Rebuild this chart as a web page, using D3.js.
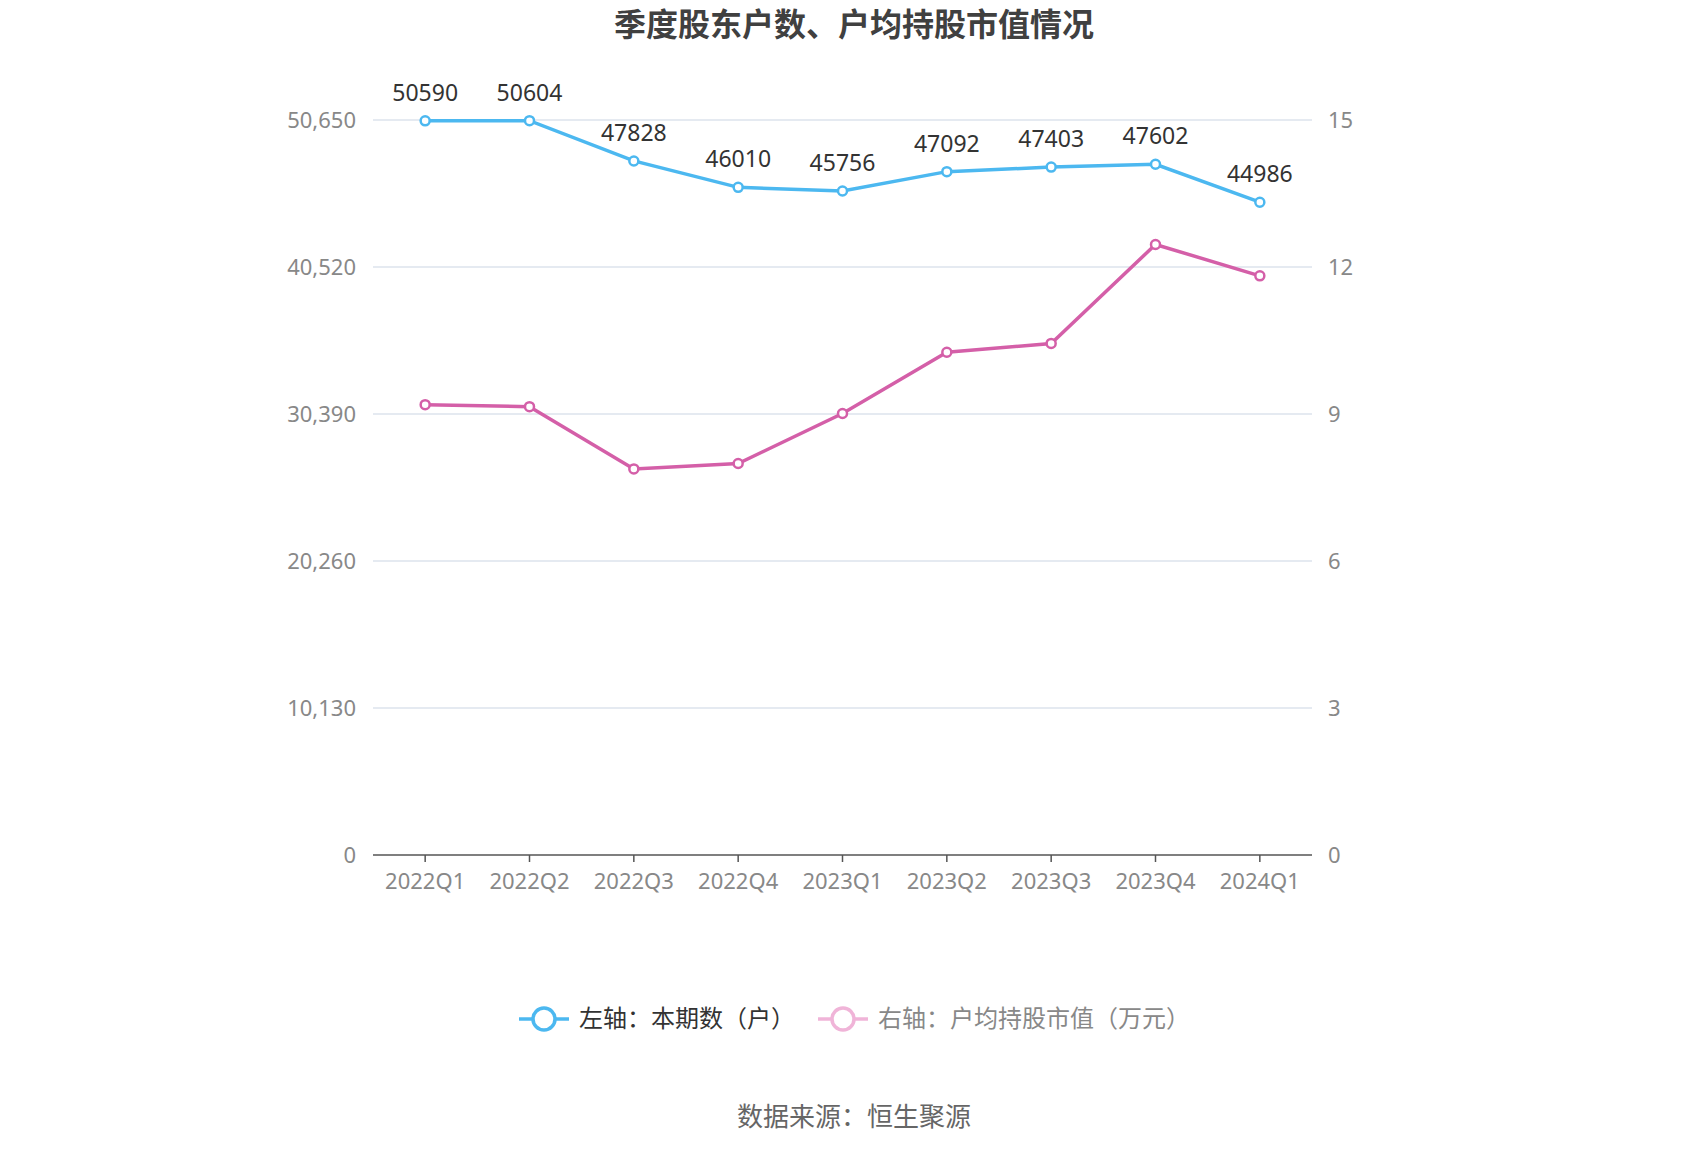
<!DOCTYPE html>
<html><head><meta charset="utf-8">
<script src="https://cdn.jsdelivr.net/npm/d3@7"></script>
<style>body{margin:0;background:#fff;font-family:"Noto Sans","Noto Sans CJK SC",sans-serif;}</style>
</head><body><div id="container"></div>
<script>
let quarters = ["2022Q1","2022Q2","2022Q3","2022Q4","2023Q1","2023Q2","2023Q3","2023Q4","2024Q1"];
let holders = [50590,50604,47828,46010,45756,47092,47403,47602,44986];
let avgValue = [9.19,9.15,7.88,7.99,9.01,10.26,10.44,12.46,11.82];
let leftTicks = [0,10130,20260,30390,40520,50650];
let rightTicks = [0,3,6,9,12,15];

let width = 1700, height = 1150;
let plotLeft = 373, plotRight = 1312, plotTop = 120, plotBottom = 855;

let svg = d3.select('#container').append("svg").attr("width", width).attr("height", height);

let x = d3.scalePoint().domain(quarters).range([plotLeft, plotRight]).padding(0.5);
let yL = d3.scaleLinear().domain([0, 50650]).range([plotBottom, plotTop]);
let yR = d3.scaleLinear().domain([0, 15]).range([plotBottom, plotTop]);

svg.append("text").attr("x", 854).attr("y", 36).attr("text-anchor", "middle")
    .attr("font-size", 32).attr("font-weight", "bold").attr("fill", "#404040").text("季度股东户数、户均持股市值情况");

//grid + ticks
leftTicks.forEach((t, i) => {
    let yy = yL(t);
    if (i > 0) svg.append("line").attr("x1", plotLeft).attr("x2", plotRight).attr("y1", yy).attr("y2", yy).attr("stroke", "#dde3ec").attr("stroke-width", 1.5);
    svg.append("text").attr("x", 356).attr("y", yy + 8).attr("text-anchor", "end").attr("font-size", 22).attr("fill", "#888").text(d3.format(",")(t));
});
rightTicks.forEach(t => {
    svg.append("text").attr("x", 1328).attr("y", yR(t) + 8).attr("font-size", 22).attr("fill", "#888").text(t);
});
svg.append("line").attr("x1", plotLeft).attr("x2", plotRight).attr("y1", plotBottom).attr("y2", plotBottom).attr("stroke", "#555").attr("stroke-width", 1.5);
quarters.forEach(q => {
    svg.append("line").attr("x1", x(q)).attr("x2", x(q)).attr("y1", plotBottom).attr("y2", plotBottom + 7).attr("stroke", "#555").attr("stroke-width", 1.5);
    svg.append("text").attr("x", x(q)).attr("y", plotBottom + 34).attr("text-anchor", "middle").attr("font-size", 22).attr("fill", "#888").text(q);
});

function drawLine(data, y, color) {
    svg.append("path").datum(data)
        .attr("d", d3.line().x((d, i) => x(quarters[i])).y(d => y(d)))
        .attr("fill", "none").attr("stroke", color).attr("stroke-width", 3.5);
    svg.selectAll(null).data(data).enter().append("circle")
        .attr("cx", (d, i) => x(quarters[i])).attr("cy", d => y(d)).attr("r", 4.5)
        .attr("fill", "#fff").attr("stroke", color).attr("stroke-width", 2.5);
}
drawLine(avgValue, yR, "#d45fa8");
drawLine(holders, yL, "#4cb8f0");

svg.selectAll(null).data(holders).enter().append("text")
    .attr("x", (d, i) => x(quarters[i])).attr("y", d => yL(d) - 20)
    .attr("text-anchor", "middle").attr("font-size", 23).attr("fill", "#333").text(d => d);

//legend
function legend(lx, color, label, tcolor) {
    svg.append("line").attr("x1", lx).attr("x2", lx + 50).attr("y1", 1019).attr("y2", 1019).attr("stroke", color).attr("stroke-width", 3.5);
    svg.append("circle").attr("cx", lx + 25).attr("cy", 1019).attr("r", 11).attr("fill", "#fff").attr("stroke", color).attr("stroke-width", 3.5);
    svg.append("text").attr("x", lx + 60).attr("y", 1027).attr("font-size", 24).attr("fill", tcolor).text(label);
}
legend(519, "#4cb8f0", "左轴：本期数（户）", "#333");
legend(818, "#f0b4d8", "右轴：户均持股市值（万元）", "#888");

svg.append("text").attr("x", 854).attr("y", 1126).attr("text-anchor", "middle").attr("font-size", 26).attr("fill", "#666").text("数据来源：恒生聚源");
</script></body></html>
